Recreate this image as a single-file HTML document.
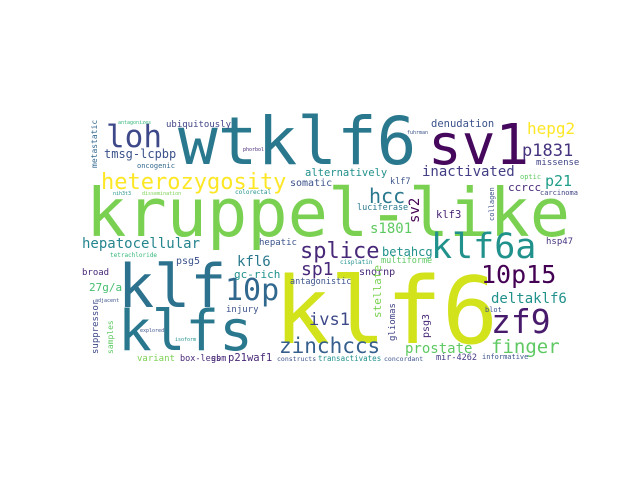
<!DOCTYPE html>
<html><head><meta charset="utf-8"><style>
html,body{margin:0;padding:0;background:#fff;}
svg{display:block;}
text{font-family:"DejaVu Sans Mono","Liberation Mono",monospace;}
</style></head><body>
<svg width="640" height="480" viewBox="0 0 640 480" xmlns="http://www.w3.org/2000/svg">
<rect width="640" height="480" fill="#fff"/>
<g>
<text x="86" y="236" font-size="67" fill="#7ad151">kruppel-like</text>
<text x="178" y="164" font-size="66" fill="#2a788e">wtklf6</text>
<text x="428" y="164" font-size="56" fill="#46085c">sv1</text>
<text x="274" y="343" font-size="93" fill="#d2e21b">klf6</text>
<text x="118" y="307" font-size="60" fill="#2c728e">klf</text>
<text x="118" y="350" font-size="56" fill="#2a788e">klfs</text>
<text x="225" y="300" font-size="30" fill="#31688e">10p</text>
<text x="106" y="147" font-size="31" fill="#3e4989">loh</text>
<text x="104" y="158" font-size="12" fill="#3b528b">tmsg-lcpbp</text>
<text x="166" y="127" font-size="9" fill="#414487">ubiquitously</text>
<text x="137" y="168" font-size="7" fill="#31688e">oncogenic</text>
<text x="97" y="168" font-size="8" fill="#31688e" transform="rotate(-90 97 168)">metastatic</text>
<text x="101" y="189" font-size="22" fill="#fde725">heterozygosity</text>
<text x="290" y="186" font-size="10" fill="#3b528b">somatic</text>
<text x="305" y="176" font-size="10.5" fill="#21918c">alternatively</text>
<text x="431" y="127" font-size="10.5" fill="#3b528b">denudation</text>
<text x="422" y="176" font-size="14" fill="#433e85">inactivated</text>
<text x="527" y="134" font-size="16" fill="#fde725">hepg2</text>
<text x="522" y="156" font-size="17" fill="#46337e">p1831</text>
<text x="536" y="165" font-size="9" fill="#414487">missense</text>
<text x="369" y="203" font-size="20" fill="#2a788e">hcc</text>
<text x="390" y="184" font-size="8.5" fill="#3b528b">klf7</text>
<text x="419" y="223" font-size="14" fill="#440154" transform="rotate(-90 419 223)">sv2</text>
<text x="357" y="210" font-size="8.5" fill="#2a788e">luciferase</text>
<text x="370" y="233" font-size="14" fill="#5ec962">s1801</text>
<text x="436" y="218" font-size="10.5" fill="#482475">klf3</text>
<text x="508" y="191" font-size="11" fill="#482878">ccrcc</text>
<text x="545" y="186" font-size="15" fill="#1f9e89">p21</text>
<text x="494" y="221" font-size="7" fill="#3b528b" transform="rotate(-90 494 221)">collagen</text>
<text x="520" y="179" font-size="7" fill="#5ec962">optic</text>
<text x="540" y="195" font-size="7" fill="#414487">carcinoma</text>
<text x="82" y="248" font-size="14" fill="#25858e">hepatocellular</text>
<text x="110" y="257" font-size="6" fill="#35b779">tetrachloride</text>
<text x="259" y="245" font-size="9" fill="#3b528b">hepatic</text>
<text x="176" y="264" font-size="10" fill="#3b528b">psg5</text>
<text x="237" y="266" font-size="14" fill="#2a788e">kfl6</text>
<text x="234" y="278" font-size="11" fill="#21918c">gc-rich</text>
<text x="82" y="275" font-size="9" fill="#482878">broad</text>
<text x="89" y="291" font-size="11" fill="#44bf70">27g/a</text>
<text x="98" y="354" font-size="9" fill="#3e4989" transform="rotate(-90 98 354)">suppressor</text>
<text x="113" y="354" font-size="8" fill="#5ec962" transform="rotate(-90 113 354)">samples</text>
<text x="226" y="312" font-size="9" fill="#3b528b">injury</text>
<text x="290" y="284" font-size="8.5" fill="#3b528b">antagonistic</text>
<text x="301" y="275" font-size="18" fill="#482878">sp1</text>
<text x="300" y="258" font-size="22" fill="#482878">splice</text>
<text x="309" y="325" font-size="17" fill="#3e4989">ivs1</text>
<text x="279" y="353" font-size="21" fill="#355f8d">zinchccs</text>
<text x="137" y="361" font-size="9" fill="#7ad151">variant</text>
<text x="180" y="361" font-size="8.5" fill="#482878">box-less</text>
<text x="211" y="361" font-size="8.5" fill="#482878">gbm</text>
<text x="228" y="361" font-size="10.5" fill="#482878">p21waf1</text>
<text x="277" y="361" font-size="6.5" fill="#3b528b">constructs</text>
<text x="431" y="258" font-size="35" fill="#21918c">klf6a</text>
<text x="382" y="256" font-size="12" fill="#21918c">betahcg</text>
<text x="381" y="263" font-size="8.5" fill="#5ec962">multiforme</text>
<text x="340" y="264" font-size="6" fill="#21918c">cisplatin</text>
<text x="481" y="283" font-size="25" fill="#440154">10p15</text>
<text x="491" y="303" font-size="14" fill="#21918c">deltaklf6</text>
<text x="491" y="333" font-size="33" fill="#481a6c">zf9</text>
<text x="491" y="353" font-size="19" fill="#5ec962">finger</text>
<text x="405" y="353" font-size="14" fill="#5ec962">prostate</text>
<text x="359" y="275" font-size="10" fill="#482878">snornp</text>
<text x="381" y="318" font-size="11" fill="#7ad151" transform="rotate(-90 381 318)">stellate</text>
<text x="429" y="338" font-size="10" fill="#482878" transform="rotate(-90 429 338)">psg3</text>
<text x="395" y="341" font-size="9" fill="#414487" transform="rotate(-90 395 341)">gliomas</text>
<text x="436" y="360" font-size="8.5" fill="#443983">mir-4262</text>
<text x="318" y="361" font-size="7.5" fill="#21918c">transactivates</text>
<text x="384" y="361" font-size="6.5" fill="#3b528b">concordant</text>
<text x="482" y="359" font-size="7" fill="#3b528b">informative</text>
<text x="485" y="312" font-size="7" fill="#3b528b">blot</text>
<text x="546" y="244" font-size="9" fill="#46337e">hsp47</text>
<text x="113" y="195" font-size="5" fill="#21918c">nih3t3</text>
<text x="142" y="195" font-size="5" fill="#7ad151">dissemination</text>
<text x="235" y="194" font-size="6" fill="#21918c">colorectal</text>
<text x="407" y="134" font-size="5" fill="#3b528b">fuhrman</text>
<text x="118" y="124" font-size="5" fill="#35b779">antagonizes</text>
<text x="243" y="151" font-size="5" fill="#482878">phorbol</text>
<text x="95" y="302" font-size="5" fill="#3b528b">adjacent</text>
<text x="140" y="332" font-size="5" fill="#3b528b">explored</text>
<text x="175" y="341" font-size="5" fill="#21918c">isoform</text>
</g>
</svg>
</body></html>
